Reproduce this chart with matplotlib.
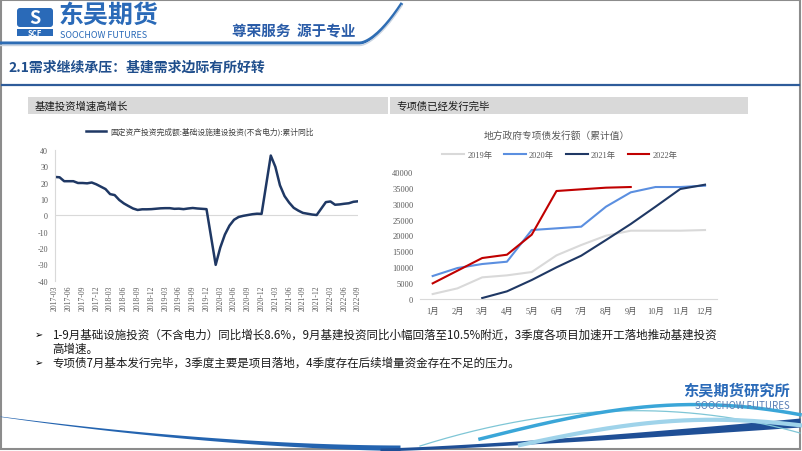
import numpy as np
import matplotlib.pyplot as plt
from matplotlib.patches import Rectangle, FancyBboxPatch

plt.rcParams['font.family'] = ['Noto Sans CJK SC', 'DejaVu Sans']
plt.rcParams['axes.unicode_minus'] = False
SERIF = ['Liberation Serif', 'Noto Sans CJK SC']

# ---- data: infrastructure investment (ex power), cumulative YoY % ----
infra_dates = (
    ['2017-%02d' % m for m in range(3, 13)]
    + ['2018-%02d' % m for m in range(2, 13)]
    + ['2019-%02d' % m for m in range(2, 13)]
    + ['2020-%02d' % m for m in range(2, 13)]
    + ['2021-%02d' % m for m in range(2, 13)]
    + ['2022-%02d' % m for m in range(2, 10)]
)
infra_yoy = [
    23.5, 23.3, 20.9, 20.9, 20.9, 19.8, 19.8, 19.6, 20.1, 19.0,
    16.1, 13.0, 12.4, 9.4, 7.3, 5.7, 4.2, 3.3, 3.7, 3.7, 3.8,
    4.3, 4.4, 4.4, 4.0, 4.1, 3.8, 4.2, 4.5, 4.2, 4.0, 3.8,
    -30.3, -19.7, -11.8, -6.3, -2.7, -1.0, -0.3, 0.2, 0.7, 1.0, 0.9,
    36.6, 29.7, 18.4, 11.8, 7.8, 4.6, 2.9, 1.5, 1.0, 0.5, 0.2,
    8.1, 8.5, 6.5, 6.7, 7.1, 7.4, 8.3, 8.6,
]
infra_legend = '固定资产投资完成额:基础设施建设投资(不含电力):累计同比'

# ---- data: local government special bonds, cumulative (100m yuan) ----
months = ['%d月' % m for m in range(1, 13)]
bond_years = ['2019年', '2020年', '2021年', '2022年']
bond_2019 = [1470, 3260, 6740, 7370, 8420, 13680, 16950, 19900, 21470, 21470, 21470, 21680]
bond_2020 = [7160, 9680, 10950, 11680, 21680, 22210, 22740, 29050, 33580, 35260, 35260, 35680]
bond_2021 = [np.nan, np.nan, 210, 2320, 5900, 9900, 13580, 18530, 23580, 29050, 34630, 36000]
bond_2022 = [4840, 8840, 12840, 13890, 20210, 34000, 34530, 35050, 35260]
bond_colors = ['#d9d9d9', '#5b8fe0', '#1f3864', '#c00000']

W, H = 802, 452
fig = plt.figure(figsize=(W / 100, H / 100), dpi=100)

# background layer in pixel coordinates
bg = fig.add_axes([0, 0, 1, 1])
bg.set_xlim(0, W)
bg.set_ylim(H, 0)
bg.axis('off')

# slide frame
bg.add_patch(Rectangle((1, 1), W - 3, H - 3, fill=False, ec='#8c8c8c', lw=1.5))

# header logo
bg.add_patch(FancyBboxPatch((17, 9), 36, 19, boxstyle='round,pad=0,rounding_size=3',
                            fc='#2a6ab8', ec='none'))
bg.text(35, 18.5, 'S', color='white', fontsize=13, fontweight='bold',
        ha='center', va='center', style='italic')
bg.add_patch(Rectangle((17, 30), 36, 7, fc='#2a6ab8', ec='none'))
bg.text(35, 33.5, 'SCF', color='white', fontsize=5.5, fontweight='bold', ha='center', va='center')
bg.text(59, 16, '东吴期货', color='#2a6ab8', fontsize=18, fontweight='bold', va='center')
bg.text(60, 35, 'SOOCHOW FUTURES', color='#2a6ab8', fontsize=6.5, va='center')
bg.text(232, 31, '尊荣服务  源于专业', color='#2a5ca8', fontsize=10.5, fontweight='bold',
        va='center', style='italic')

# header swoosh line
xs = np.linspace(0, 402, 200)
ys = np.where(xs < 360, 44, 44 - 40 * ((xs - 360) / 42) ** 1.6)
bg.plot(xs, ys, color='#2e6db4', lw=2.2, solid_capstyle='butt')
bg.plot(xs, ys + 2.5, color='#c9d3e0', lw=1.0)

# section title
bg.text(8, 68, '2.1需求继续承压：基建需求边际有所好转', color='#1f4e8c',
        fontsize=10, fontweight='bold', va='center')
bg.plot([2, W - 3], [86, 86], color='#2e5c9a', lw=1.6)

# panel header bars
bg.add_patch(Rectangle((28, 98), 360, 17, fc='#d9d9d9', ec='none'))
bg.add_patch(Rectangle((390, 98), 358, 17, fc='#d9d9d9', ec='none'))
bg.text(35, 106.5, '基建投资增速高增长', fontsize=7.5, va='center', color='#1a1a1a')
bg.text(396, 106.5, '专项债已经发行完毕', fontsize=7.5, va='center', color='#1a1a1a')

# bullets
bullet_font = ['Noto Sans CJK SC', 'DejaVu Sans']
bg.text(35, 335, '➢', fontsize=7, va='center', family=bullet_font)
bg.text(52, 335, '1-9月基础设施投资（不含电力）同比增长8.6%，9月基建投资同比小幅回落至10.5%附近，'
        '3季度各项目加速开工落地推动基建投资', fontsize=8.3, va='center', color='#1a1a1a')
bg.text(52, 349, '高增速。', fontsize=8.3, va='center', color='#1a1a1a')
bg.text(35, 363, '➢', fontsize=7, va='center', family=bullet_font)
bg.text(52, 363, '专项债7月基本发行完毕，3季度主要是项目落地，4季度存在后续增量资金存在不足的压力。',
        fontsize=8.3, va='center', color='#1a1a1a')

# bottom-right logo
bg.text(790, 391, '东吴期货研究所', color='#2a6ab8', fontsize=11, fontweight='bold',
        ha='right', va='center')
bg.text(790, 406, 'SOOCHOW FUTURES', color='#5a7fb5', fontsize=7, ha='right', va='center')

# bottom swooshes
t = np.linspace(0, 1, 200)
x1 = 400 * t
y1 = 417 + 29 * (1 - (1 - t) ** 1.8)
bg.fill_between(x1, y1, y1 + 0.5 + 5 * t, color='#2464b0', lw=0)
x2 = 380 + 420 * t
bg.fill_between(x2, 449 - 30 * t ** 1.3, 452 - 24 * t ** 1.2, color='#1f4f96', lw=0)
bg.plot(420 + 380 * t, 447 - 75 * t * (1 - t) * 1.6 - 25 * t ** 2 + 12 * t ** 3, color='#7fc6d6', lw=0.9)
bg.plot(480 + 320 * t, 440 - 40 * np.sin(np.pi * t * 0.7) + 8 * t, color='#3aa6d8', lw=2.5)
bg.plot(520 + 280 * t, 446 - 20 * np.sin(np.pi * t * 0.8) - 8 * t, color='#9fd3ea', lw=3)

# ---- left chart ----
idx = [(int(d[:4]) - 2017) * 12 + int(d[5:]) - 3 for d in infra_dates]
axL = fig.add_axes([55 / W, 1 - 281.7 / H, (358 - 55) / W, (281.7 - 151) / H])
axL.plot(idx, infra_yoy, color='#1f3864', lw=1.8)
axL.axhline(0, color='#d9d9d9', lw=0.8, zorder=0)
axL.set_xlim(0, 66)
axL.set_ylim(-40, 40)
axL.set_yticks(range(-40, 41, 10))
tick_pos = list(range(0, 67, 3))
tick_lab = ['%d-%02d' % (2017 + (p + 2) // 12, (p + 2) % 12 + 1) for p in tick_pos]
axL.set_xticks(tick_pos)
axL.set_xticklabels(tick_lab, rotation=90, family=SERIF, fontsize=5.5, color='#595959')
for lab in axL.get_yticklabels():
    lab.set_family(SERIF)
axL.tick_params(axis='y', labelsize=5.8, colors='#595959', length=0, pad=5)
axL.tick_params(axis='x', length=0, pad=3)
for s in ['top', 'right', 'bottom']:
    axL.spines[s].set_visible(False)
axL.spines['left'].set_color('#d9d9d9')
axL.spines['left'].set_linewidth(0.8)
axL.patch.set_alpha(0)
axL.legend([infra_legend], loc='center', bbox_to_anchor=(200 / W, 1 - 132.3 / H),
           bbox_transform=fig.transFigure, frameon=False, fontsize=5.6,
           handlelength=2.6, handletextpad=0.6, labelcolor='#404040')

# ---- right chart ----
axR = fig.add_axes([420.3 / W, 1 - 299.7 / H, (717.4 - 420.3) / W, (299.7 - 173) / H])
x = np.arange(12)
series = [bond_2019, bond_2020, bond_2021, bond_2022]
for lab, vals, col in zip(bond_years, series, bond_colors):
    axR.plot(x[:len(vals)], vals, color=col, lw=1.5, label=lab)
axR.set_xlim(-0.5, 11.5)
axR.set_ylim(0, 40000)
axR.set_yticks(range(0, 40001, 5000))
axR.set_xticks(x)
axR.set_xticklabels(months, family=SERIF, fontsize=6, color='#595959')
for lab in axR.get_yticklabels():
    lab.set_family(SERIF)
axR.tick_params(axis='y', labelsize=6, colors='#595959', length=0, pad=5)
axR.tick_params(axis='x', length=0, pad=6)
for s in ['top', 'right', 'left']:
    axR.spines[s].set_visible(False)
axR.spines['bottom'].set_color('#d9d9d9')
axR.spines['bottom'].set_linewidth(0.8)
axR.patch.set_alpha(0)
fig.text(557 / W, 1 - 135.7 / H, '地方政府专项债发行额（累计值）', ha='center', va='center',
         fontsize=7, color='#595959')
leg = axR.legend(loc='center', bbox_to_anchor=(560 / W, 1 - 156 / H), bbox_transform=fig.transFigure,
                 ncol=4, frameon=False, fontsize=6, handlelength=2.6, handletextpad=0.4,
                 columnspacing=1.4, prop={'family': SERIF, 'size': 6})
for txt in leg.get_texts():
    txt.set_color('#595959')

fig.savefig('out.png', dpi=100)
